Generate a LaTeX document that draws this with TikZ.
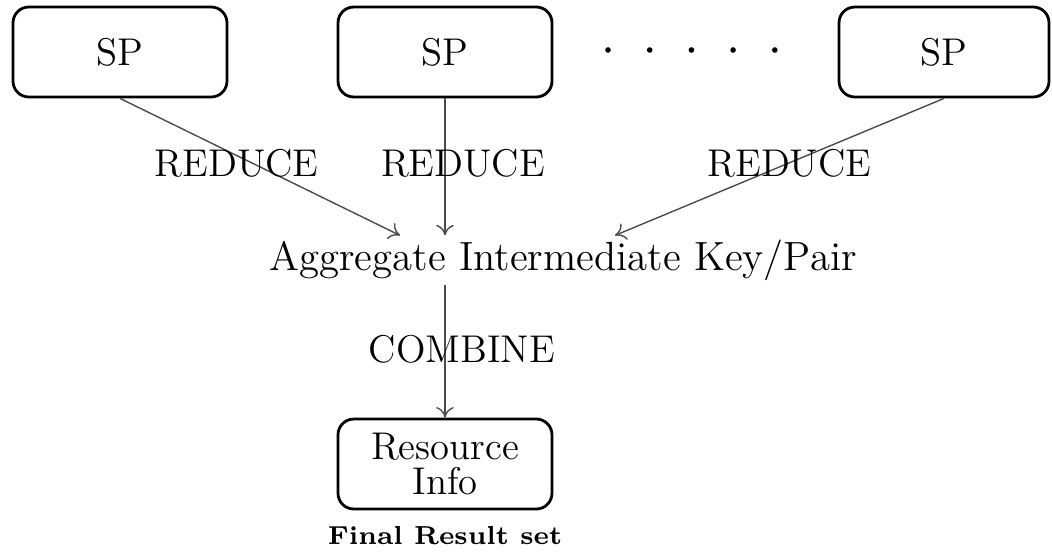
\documentclass[tikz,border=0pt]{standalone}
\usepackage{tikz}
\usetikzlibrary{arrows.meta}
\tikzstyle{box} = [draw, thick, rounded corners=4.5pt, minimum width=2.14cm, minimum height=0.9cm, align=center]
\tikzstyle{dot} = [circle, minimum width=1.6pt, fill, inner sep=0pt]
\tikzstyle{flow} = [draw=black!70, -{To[length=3pt,width=5pt]}]

\begin{document}
\begin{tikzpicture}[font=\fontsize{11}{13}\selectfont]
\useasboundingbox (0,0) rectangle (10.52,-5.54);
\node[box] (sp1) at (1.20,-0.52) {SP};
\node[box] (sp2) at (4.45,-0.52) {SP};
\node[box, minimum width=2.1cm] (sp3) at (9.44,-0.52) {SP};
\foreach \i in {0,...,4}
    \node[dot] (d\i) at ({6.08+0.417*\i},-0.50) {};
\node[inner sep=1pt, font=\fontsize{11.6}{13}\selectfont] (agg) at (5.63,-2.60) {Aggregate Intermediate Key/Pair};
\node[box, font=\fontsize{11}{9.8}\selectfont,
    label={[font=\fontsize{7.4}{9}\selectfont\bfseries, label distance=0.04cm]below:Final Result set}]
    (res) at (4.45,-4.64) {Resource\\Info};
\draw[flow] (sp1.south) -- ([xshift=-1.63cm]agg.north)
    node[pos=0.47, xshift=-0.15cm] {REDUCE};
\draw[flow] (sp2.south) -- (sp2.south |- agg.north)
    node[pos=0.47, xshift=0.18cm] {REDUCE};
\draw[flow] (sp3.south) -- ([xshift=0.52cm]agg.north)
    node[pos=0.47] {REDUCE};
\draw[flow] (agg.south -| res.north) -- (res.north)
    node[pos=0.49, xshift=0.17cm] {COMBINE};
\end{tikzpicture}
\end{document}
